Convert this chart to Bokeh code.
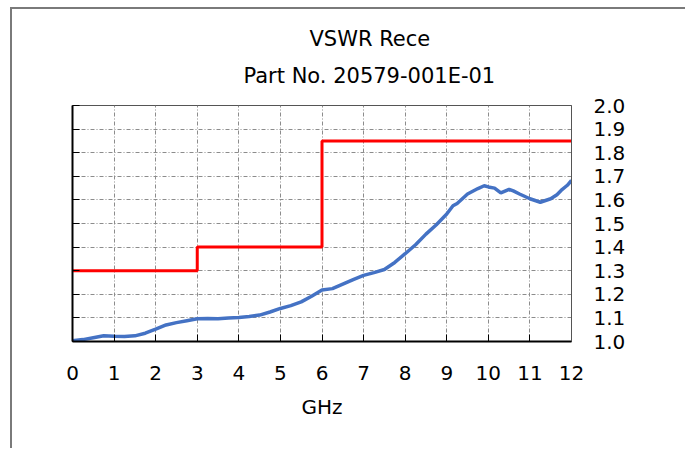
from bokeh.plotting import figure
from bokeh.models import (LinearAxis, FixedTicker, PrintfTickFormatter, Range1d,
                          Title, ColumnDataSource, CustomLabelingPolicy)
from bokeh.embed import file_html
from bokeh.resources import INLINE

# ---- data ----
title_text = "VSWR Rece"
subtitle_text = "Part No. 20579-001E-01"
x_label = "GHz"

freq_ghz = [0.0, 0.25, 0.5, 0.75, 1.0, 1.25, 1.5, 1.75, 2.0, 2.25, 2.5, 2.75,
            3.0, 3.25, 3.5, 3.75, 4.0, 4.25, 4.5, 4.75, 5.0, 5.25, 5.5, 5.75,
            6.0, 6.25, 6.5, 6.75, 7.0, 7.25, 7.5, 7.75, 8.0, 8.25, 8.5, 8.75,
            9.0, 9.15, 9.25, 9.5, 9.75, 9.9, 10.0, 10.15, 10.3, 10.5, 10.6,
            10.75, 11.0, 11.25, 11.5, 11.65, 11.75, 11.9, 12.0]
vswr = [1.003, 1.008, 1.016, 1.024, 1.022, 1.021, 1.024, 1.035, 1.052, 1.070,
        1.080, 1.088, 1.096, 1.097, 1.096, 1.100, 1.102, 1.106, 1.112, 1.125,
        1.140, 1.152, 1.168, 1.192, 1.218, 1.224, 1.243, 1.262, 1.280, 1.292,
        1.305, 1.335, 1.372, 1.410, 1.455, 1.495, 1.540, 1.575, 1.585, 1.625,
        1.648, 1.660, 1.655, 1.650, 1.630, 1.645, 1.638, 1.625, 1.605, 1.590,
        1.605, 1.622, 1.640, 1.662, 1.683]

limit_freq = [0.0, 3.0, 6.0, 12.0]
limit_vswr = [1.3, 1.4, 1.85, 1.85]

x_ticks = [0, 1, 2, 3, 4, 5, 6, 7, 8, 9, 10, 11, 12]
y_ticks = [1.0, 1.1, 1.2, 1.3, 1.4, 1.5, 1.6, 1.7, 1.8, 1.9, 2.0]

FONT = "DejaVu Sans"

p = figure(width=675, height=441, output_backend="svg", toolbar_location=None,
           x_range=Range1d(0, 12), y_range=Range1d(1.0, 2.0),
           y_axis_location="right",
           min_border_left=60, min_border_right=116,
           min_border_top=96, min_border_bottom=109,
           background_fill_color="white", border_fill_color="white",
           styles={"border-left": "2px solid #7a7a7a",
                   "border-top": "2px solid #7a7a7a",
                   "margin-left": "10px", "margin-top": "7px"})

p.outline_line_color = "#555555"
p.outline_line_width = 1

# grid
for g in (p.xgrid[0], p.ygrid[0]):
    g.grid_line_color = "#8c8c8c"
    g.grid_line_dash = "4 2 1 2"
    g.grid_line_width = 1
p.xgrid[0].ticker = FixedTicker(ticks=x_ticks)
p.ygrid[0].ticker = FixedTicker(ticks=y_ticks)

# bottom axis
xa = p.xaxis[0]
xa.ticker = FixedTicker(ticks=x_ticks)
xa.major_tick_in = 7
xa.major_tick_out = 0
xa.minor_tick_in = 0
xa.minor_tick_out = 0
xa.axis_line_color = "black"
xa.axis_line_width = 2
xa.major_tick_line_color = "black"
xa.major_tick_line_width = 1
xa.major_label_text_font = FONT
xa.major_label_text_font_size = "20px"
xa.major_label_text_color = "black"
xa.major_label_standoff = 24
xa.axis_label = x_label
xa.axis_label_text_font = FONT
xa.axis_label_text_font_size = "20px"
xa.axis_label_text_font_style = "normal"
xa.axis_label_text_color = "black"
xa.axis_label_standoff = 12

# right axis (labels)
ya = p.yaxis[0]
ya.ticker = FixedTicker(ticks=y_ticks)
ya.formatter = PrintfTickFormatter(format="%.1f")
ya.major_tick_in = 0
ya.major_tick_out = 0
ya.minor_tick_in = 0
ya.minor_tick_out = 0
ya.axis_line_color = "#555555"
ya.major_label_text_font = FONT
ya.major_label_text_font_size = "20px"
ya.major_label_text_color = "black"
ya.major_label_standoff = 22

# left axis (ticks only, no labels)
la = LinearAxis(ticker=FixedTicker(ticks=y_ticks),
                major_label_policy=CustomLabelingPolicy(code="return new Set()"))
la.major_tick_in = 7
la.major_tick_out = 0
la.minor_tick_in = 0
la.minor_tick_out = 0
la.axis_line_color = "black"
la.axis_line_width = 2
la.major_tick_line_color = "black"
la.major_label_standoff = 0
p.add_layout(la, "left")

# data
src = ColumnDataSource(dict(f=freq_ghz, v=vswr))
p.line("f", "v", source=src, line_color="#4472C4", line_width=3.5)
lim = ColumnDataSource(dict(f=limit_freq, v=limit_vswr))
p.step("f", "v", source=lim, mode="after", line_color="#FF0000", line_width=3)

# titles (subtitle first: closest to the frame)
p.add_layout(Title(text=subtitle_text, align="left", offset=171,
                   text_font=FONT, text_font_size="21px",
                   text_font_style="normal", text_color="black",
                   standoff=36), "above")
p.add_layout(Title(text=title_text, align="left", offset=237,
                   text_font=FONT, text_font_size="21px",
                   text_font_style="normal", text_color="black",
                   standoff=-15), "above")

open("out.html", "w").write(file_html(p, INLINE))
